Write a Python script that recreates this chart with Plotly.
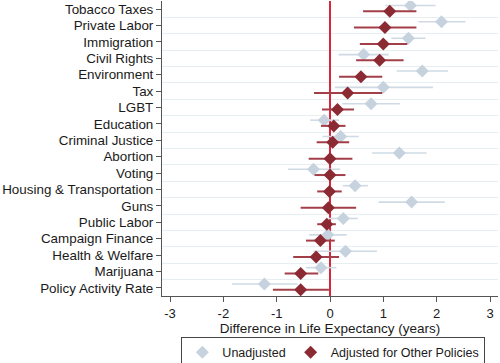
import numpy as np
import plotly.graph_objects as go

categories = ["Tobacco Taxes", "Private Labor", "Immigration", "Civil Rights", "Environment",
              "Tax", "LGBT", "Education", "Criminal Justice", "Abortion", "Voting",
              "Housing & Transportation", "Guns", "Public Labor", "Campaign Finance",
              "Health & Welfare", "Marijuana", "Policy Activity Rate"]

unadj_est = [1.51, 2.09, 1.47, 0.63, 1.73, 1.00, 0.77, -0.11, 0.20, 1.30, -0.31, 0.47, 1.53, 0.25, -0.04, 0.29, -0.17, -1.23]
unadj_lo  = [1.04, 1.66, 1.15, 0.16, 1.25, 0.09, 0.23, -0.37, -0.14, 0.79, -0.79, 0.24, 0.91, -0.03, -0.39, -0.31, -0.45, -1.84]
unadj_hi  = [1.98, 2.54, 1.79, 1.10, 2.21, 1.93, 1.31, 0.17, 0.54, 1.81, 0.19, 0.71, 2.15, 0.52, 0.31, 0.88, 0.12, -0.61]

adj_est = [1.12, 1.03, 1.00, 0.93, 0.58, 0.33, 0.14, 0.07, 0.05, 0.00, 0.00, -0.01, -0.03, -0.06, -0.18, -0.26, -0.55, -0.55]
adj_lo  = [0.62, 0.45, 0.56, 0.49, 0.17, -0.30, -0.15, -0.17, -0.25, -0.40, -0.29, -0.24, -0.55, -0.24, -0.45, -0.69, -0.85, -1.07]
adj_hi  = [1.62, 1.62, 1.45, 1.38, 0.98, 0.98, 0.45, 0.29, 0.36, 0.42, 0.29, 0.22, 0.49, 0.11, 0.09, 0.17, -0.22, -0.02]

x_ticks = [-3, -2, -1, 0, 1, 2, 3]
x_ticklabels = ["-3", "-2", "-1", "0", "1", "2", "3"]

idx = np.arange(len(categories))
FONT = "Liberation Sans, Arial, Helvetica, sans-serif"

def errs(est, lo, hi):
    est, lo, hi = map(np.array, (est, lo, hi))
    return hi - est, est - lo

fig = go.Figure()

up, dn = errs(unadj_est, unadj_lo, unadj_hi)
fig.add_trace(go.Scatter(
    x=unadj_est, y=idx - 0.23, mode="markers", name="Unadjusted",
    marker=dict(symbol="diamond", size=10, color="#c6d3df"),
    error_x=dict(type="data", array=up, arrayminus=dn, width=0, thickness=1.6, color="#cfdae4"),
))

up, dn = errs(adj_est, adj_lo, adj_hi)
fig.add_trace(go.Scatter(
    x=adj_est, y=idx + 0.12, mode="markers", name="Adjusted for Other Policies",
    marker=dict(symbol="diamond", size=10, color="#8c2a33"),
    error_x=dict(type="data", array=up, arrayminus=dn, width=0, thickness=2, color="#a23f48"),
))

fig.update_layout(
    width=500, height=363,
    margin=dict(l=162, r=2, t=1, b=67, autoexpand=False),
    paper_bgcolor="white", plot_bgcolor="white",
    font=dict(family=FONT, size=13, color="#1a1a1a"),
    showlegend=True,
    legend=dict(orientation="h", x=0.51, xanchor="center", y=-0.138, yanchor="top",
                bordercolor="#444444", borderwidth=1, font=dict(size=12.5),
                itemwidth=30, tracegroupgap=0),
    xaxis=dict(range=[-3.15, 3.15], tickmode="array", tickvals=x_ticks, ticktext=x_ticklabels,
               ticks="outside", ticklen=5, automargin=False,
               tickcolor="#555555", showline=True, linecolor="#555555", linewidth=1,
               showgrid=False, zeroline=True, zerolinecolor="#d9263a", zerolinewidth=1.5,
               title=dict(text="Difference in Life Expectancy (years)", standoff=0,
                          font=dict(size=13.5)),
               tickfont=dict(size=13)),
    yaxis=dict(range=[17.5, -0.5], tickmode="array", tickvals=idx, ticktext=categories,
               ticks="outside", ticklen=5, tickcolor="#555555", automargin=False,
               showline=True, linecolor="#555555", linewidth=1,
               showgrid=False, zeroline=False, tickfont=dict(size=13.4, color="#1a1a1a"),
               minor=dict(tick0=0.5, dtick=1, showgrid=True, gridcolor="#e6eef2",
                          gridwidth=1, ticks="")),
)

fig.write_html("out.html", config={"displayModeBar": False},
               post_script="document.body.style.margin='0px';document.body.style.overflow='hidden';")
